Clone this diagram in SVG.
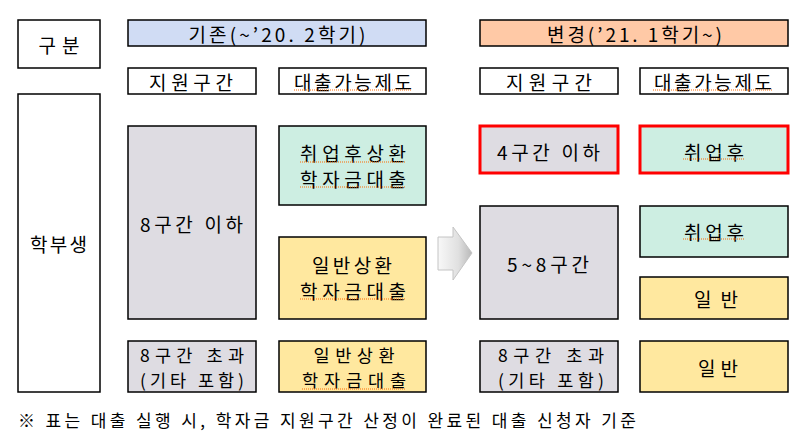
<svg xmlns="http://www.w3.org/2000/svg" width="808" height="447" viewBox="0 0 808 447">
<style>
.box{stroke:#000;stroke-width:1.5}
.white{fill:#fff}
.blue{fill:#D0DCF4}
.peach{fill:#FFC9A6}
.gray{fill:#DEDCE2}
.cyan{fill:#CDEEE2}
.yellow{fill:#FFE89F}
.red{stroke:#FF0000;stroke-width:3}
text{font-family:"Noto Sans CJK KR","Noto Sans",sans-serif;font-size:19px;fill:#000;text-anchor:middle;dominant-baseline:central}
.two{font-size:17.5px}
.note{text-anchor:start;font-size:17px}
.sq{stroke:#FF6A00;stroke-width:1;stroke-dasharray:1 1;fill:none}
</style>
<defs>
<linearGradient id="arr" x1="0" y1="0" x2="1" y2="0">
<stop offset="0" stop-color="#F8F8F8"/>
<stop offset="0.6" stop-color="#E0E0E0"/>
<stop offset="1" stop-color="#B8B8B8"/>
</linearGradient>
</defs>
<rect width="808" height="447" fill="#fff"/>

<g id="gubun"><rect class="box white" x="18" y="20" width="82" height="48"/><text x="59" y="44" textLength="41">구분</text></g>
<g id="hdr-old"><rect class="box blue" x="128" y="20" width="298" height="26"/><text x="277" y="33.5" textLength="177">기존(~’20. 2학기)</text></g>
<g id="hdr-new"><rect class="box peach" x="480" y="20" width="308" height="26"/><text x="634.5" y="33.5" textLength="175">변경(’21. 1학기~)</text></g>

<g id="col-old-1"><rect class="box white" x="128" y="68" width="128" height="26"/><text x="191" y="81" textLength="84">지원구간</text></g>
<g id="col-old-2"><rect class="box white" x="279" y="68" width="147" height="26"/><text x="353" y="81" textLength="118">대출가능제도</text></g>
<g id="col-new-1"><rect class="box white" x="480" y="68" width="138" height="26"/><text x="549" y="81" textLength="86">지원구간</text></g>
<g id="col-new-2"><rect class="box white" x="640" y="68" width="148" height="26"/><text x="713" y="81" textLength="118">대출가능제도</text></g>

<g id="undergrad"><rect class="box white" x="18" y="94" width="82" height="298"/><text x="58.5" y="243" textLength="57">학부생</text></g>

<g id="old-le8"><rect class="box gray" x="128" y="126" width="128" height="193"/><text x="191.5" y="223" textLength="103">8구간 이하</text></g>
<g id="old-icl"><rect class="box cyan" x="279" y="126" width="147" height="79"/><text x="353" y="152" textLength="106">취업후상환</text><text x="353" y="178" textLength="106">학자금대출</text></g>
<g id="old-gen1"><rect class="box yellow" x="279" y="237" width="147" height="82"/><text x="352" y="264" textLength="80">일반상환</text><text x="353" y="290" textLength="106">학자금대출</text></g>
<g id="old-gt8"><rect class="box gray" x="128" y="341" width="128" height="51"/><text class="two" x="192" y="354.5" textLength="104">8구간 초과</text><text class="two" x="192" y="379.5" textLength="104">(기타 포함)</text></g>
<g id="old-gen2"><rect class="box yellow" x="279" y="341" width="147" height="51"/><text class="two" x="354" y="354.5" textLength="81">일반상환</text><text class="two" x="354" y="379.5" textLength="104">학자금대출</text></g>

<g id="new-le4"><rect class="gray red" x="480" y="126" width="138" height="47"/><text x="548.5" y="151" textLength="103">4구간 이하</text></g>
<g id="new-icl1"><rect class="cyan red" x="640" y="126" width="148" height="47"/><text x="714" y="151" textLength="60">취업후</text></g>
<g id="new-5to8"><rect class="box gray" x="480" y="206" width="138" height="113"/><text x="548" y="263" textLength="82">5~8구간</text></g>
<g id="new-icl2"><rect class="box cyan" x="640" y="206" width="148" height="51"/><text x="714" y="231" textLength="60">취업후</text></g>
<g id="new-gen1"><rect class="box yellow" x="640" y="277" width="148" height="42"/><text x="716" y="298" textLength="44">일반</text></g>
<g id="new-gt8"><rect class="box gray" x="480" y="341" width="138" height="51"/><text class="two" x="551" y="354.5" textLength="106">8구간 초과</text><text class="two" x="551" y="379.5" textLength="106">(기타 포함)</text></g>
<g id="new-gen2"><rect class="box yellow" x="640" y="341" width="148" height="51"/><text x="718" y="367" textLength="40">일반</text></g>

<g id="connectors">
<path d="M438,237 H453 V227 L472,253 L453,280 V270 H438 Z" fill="url(#arr)" stroke="#C4C4C4" stroke-width="1"/>
</g>

<g id="spellmarks">
<line class="sq" x1="294" y1="90" x2="412" y2="90"/>
<line class="sq" x1="653" y1="90" x2="773" y2="90"/>
<line class="sq" x1="300" y1="162" x2="406" y2="162"/>
<line class="sq" x1="300" y1="187" x2="406" y2="187"/>
<line class="sq" x1="300" y1="299" x2="406" y2="299"/>
<line class="sq" x1="302" y1="389" x2="406" y2="389"/>
<line class="sq" x1="683" y1="159" x2="745" y2="159"/>
<line class="sq" x1="683" y1="239" x2="745" y2="239"/>
</g>

<g id="footnote"><text class="note" x="18" y="419" textLength="618">※ 표는 대출 실행 시, 학자금 지원구간 산정이 완료된 대출 신청자 기준</text></g>
</svg>
